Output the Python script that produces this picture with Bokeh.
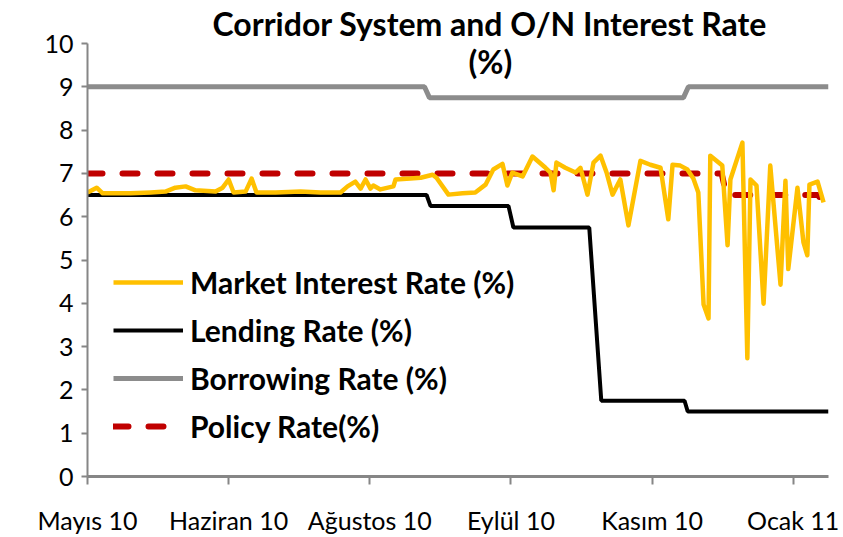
from bokeh.plotting import figure
from bokeh.models import Legend, LegendItem, FixedTicker, Label, Range1d
from bokeh.embed import file_html
from bokeh.resources import INLINE

# ---- data (x = trading-day index, tick every 40 days) ----
tick_positions = [0, 40, 80, 120, 160, 200]
tick_labels = ["Mayıs 10", "Haziran 10", "Ağustos 10", "Eylül 10", "Kasım 10", "Ocak 11"]

market_x = [0, 2.6, 4.3, 12.2, 17.9, 22.1, 24.9, 27.8, 30.6, 36.3, 38.3, 40.0, 41.4, 44.8,
            46.5, 47.9, 53.3, 60.4, 66.0, 71.7, 73.7, 75.9, 77.4, 78.8, 80.2, 81.0, 83.0,
            86.7, 87.3, 91.5, 94.4, 97.8, 98.9, 102.3, 106.3, 109.9, 112.8, 115.0, 117.6,
            119.0, 120.4, 123.3, 126.1, 129.8, 131.2, 132.1, 132.9, 135.4, 138.3, 139.7,
            141.7, 143.4, 145.4, 147.1, 148.8, 151.0, 153.3, 156.7, 159.5, 162.4, 164.6,
            165.8, 168.0, 170.0, 171.7, 173.1, 174.6, 176.0, 176.5, 179.9, 181.4, 182.2,
            185.6, 187.0, 187.9, 189.6, 191.6, 193.5, 196.4, 197.8, 198.6, 201.2, 202.9,
            204.0, 204.6, 206.9, 208.6]
market_y = [6.56, 6.67, 6.54, 6.54, 6.56, 6.58, 6.67, 6.70, 6.61, 6.58, 6.67, 6.86, 6.56, 6.58,
            6.88, 6.56, 6.56, 6.58, 6.56, 6.56, 6.70, 6.81, 6.65, 6.86, 6.65, 6.72, 6.63,
            6.70, 6.86, 6.88, 6.90, 6.97, 6.90, 6.51, 6.54, 6.56, 6.74, 7.09, 7.22,
            6.72, 7.02, 6.93, 7.39, 7.13, 7.02, 6.61, 7.25, 7.13, 7.02, 7.13,
            6.51, 7.25, 7.41, 7.02, 6.51, 6.86, 5.80, 7.29, 7.20, 7.13, 5.94,
            7.20, 7.18, 7.09, 6.88, 6.56, 3.97, 3.65, 7.41, 7.18, 5.34, 6.86,
            7.71, 2.73, 6.86, 6.72, 3.99, 7.18, 4.43, 6.83, 4.79, 6.67, 5.41,
            5.11, 6.74, 6.81, 6.33]

lending_x = [0, 96.1, 97.2, 119.3, 120.7, 142.2, 145.6, 169.2, 170.1, 210]
lending_y = [6.5, 6.5, 6.25, 6.25, 5.75, 5.75, 1.75, 1.75, 1.5, 1.5]

borrowing_x = [0, 95.5, 96.9, 168.9, 170.3, 210]
borrowing_y = [9, 9, 8.75, 8.75, 9, 9]

policy_x = [0, 179.7, 181.1, 207.1, 209.1]
policy_y = [7, 7, 6.5, 6.5, 6.2]

FONT = "Lato"
AXIS_GREY = "#868686"

p = figure(width=843, height=537, output_backend="svg", toolbar_location=None,
           x_range=Range1d(0, 210), y_range=Range1d(0, 10),
           min_border_left=87, min_border_right=15, min_border_top=40, min_border_bottom=61,
           title="Corridor System and O/N Interest Rate")
p.outline_line_color = None
p.background_fill_color = "white"
p.border_fill_color = "white"
p.xgrid.visible = False
p.ygrid.visible = False

p.title.align = "left"
p.title.offset = 125
p.title.standoff = 2
p.title.text_font = FONT
p.title.text_font_style = "bold"
p.title.text_font_size = "32px"
p.title.text_color = "black"

r_borrow = p.line(borrowing_x, borrowing_y, line_color="#8C8C8C", line_width=5)
r_lend = p.line(lending_x, lending_y, line_color="black", line_width=4)
r_policy = p.line(policy_x, policy_y, line_color="#C00000", line_width=6,
                  line_dash="15 20", line_cap="round")
r_market = p.line(market_x, market_y, line_color="#FFC000", line_width=4.5, line_join="round")

# axes
p.yaxis.ticker = FixedTicker(ticks=list(range(11)))
p.xaxis.ticker = FixedTicker(ticks=tick_positions)
p.xaxis.major_label_overrides = {t: l for t, l in zip(tick_positions, tick_labels)}
for ax in (p.xaxis[0], p.yaxis[0]):
    ax.axis_line_color = AXIS_GREY
    ax.major_tick_line_color = AXIS_GREY
    ax.major_tick_line_width = 2
    ax.minor_tick_line_color = None
    ax.major_tick_in = 0
    ax.major_label_text_font = FONT
    ax.major_label_text_font_size = "25px"
    ax.major_label_text_color = "black"
p.yaxis.axis_line_width = 2
p.yaxis.major_tick_out = 6
p.yaxis.major_label_standoff = 8
p.xaxis.axis_line_width = 3
p.xaxis.major_tick_out = 8
p.xaxis.major_label_standoff = 20

# second title line inside the frame
p.add_layout(Label(x=114.2, y=9.59, text="(%)",
                   text_align="center", text_baseline="middle", text_font=FONT,
                   text_font_style="bold", text_font_size="32px", text_color="black"))

legend = Legend(items=[
    LegendItem(label="Market Interest Rate (%)", renderers=[r_market]),
    LegendItem(label="Lending Rate (%)", renderers=[r_lend]),
    LegendItem(label="Borrowing Rate (%)", renderers=[r_borrow]),
    LegendItem(label="Policy Rate(%)", renderers=[r_policy]),
], location="bottom_left")
legend.margin = 26
legend.padding = 16
legend.spacing = 0
legend.glyph_width = 70
legend.glyph_height = 48
legend.label_height = 48
legend.label_standoff = 7
legend.label_text_font = FONT
legend.label_text_font_style = "bold"
legend.label_text_font_size = "30px"
legend.label_text_color = "black"
legend.background_fill_alpha = 0
legend.border_line_color = None
p.add_layout(legend)

open("out.html", "w").write(file_html(p, INLINE))
